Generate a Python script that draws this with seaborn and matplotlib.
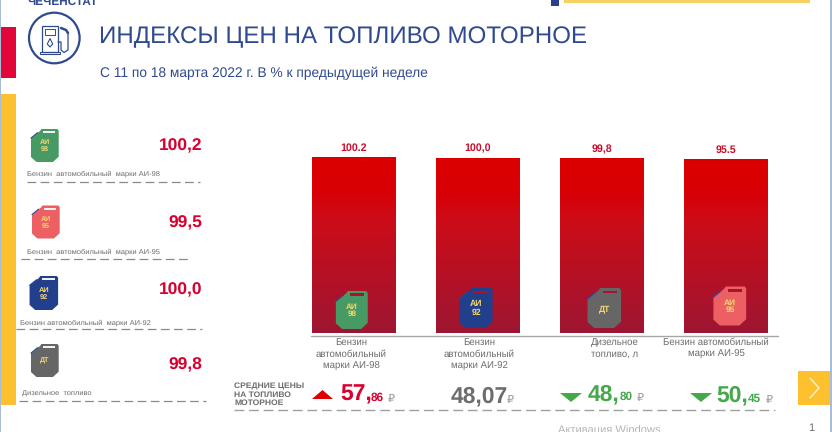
import numpy as np
import pandas as pd
import matplotlib
matplotlib.use("Agg")
import matplotlib.pyplot as plt
import seaborn as sns
from matplotlib.colors import LinearSegmentedColormap
from matplotlib.patches import Circle, Polygon, Rectangle

# the data
fuels = ["АИ-98", "АИ-92", "ДТ", "АИ-95"]
bar_values = [100.2, 100.0, 99.8, 99.5]
bar_labels = ["100.2", "100,0", "99,8", "95.5"]
bar_names = ["Бензин\nавтомобильный\nмарки АИ-98", "Бензин\nавтомобильный\nмарки АИ-92",
             "Дизельное\nтопливо, л", "Бензин автомобильный\nмарки АИ-95"]

side_values = ["100,2", "99,5", "100,0", "99,8"]
side_names = ["Бензин  автомобильный  марки АИ-98", "Бензин  автомобильный  марки АИ-95",
              "Бензин автомобильный  марки АИ-92", "Дизельное  топливо"]

price_whole = ["57,", "48,07", "48,", "50,"]
price_cents = ["86", "", "80", "45"]

NAVY = "#2f4a8f"
RED = "#d9002f"
YELLOW = "#fdc02f"
GREEN = "#45a84a"
GREY = "#6d6d6d"
CAN_COLORS = {"АИ-98": "#479a63", "АИ-92": "#223f8c", "ДТ": "#666666", "АИ-95": "#ec6064"}
W, H = 832, 432

sns.set_theme(style="white")
plt.rcParams["font.family"] = ["Liberation Sans", "DejaVu Sans"]
plt.rcParams["text.hinting"] = "no_hinting"

fig = plt.figure(figsize=(W / 100, H / 100), dpi=100, facecolor="white")

# overlay in pixel coordinates for everything around the chart
bg = fig.add_axes([0, 0, 1, 1], zorder=0)
bg.set_xlim(0, W)
bg.set_ylim(H, 0)
bg.axis("off")

# bar chart
ax = fig.add_axes([311 / W, 1 - 333 / H, (778 - 311) / W, 180 / H], zorder=1)
ax.patch.set_alpha(0)
df = pd.DataFrame({"fuel": fuels, "value": bar_values})
sns.barplot(data=df, x="fuel", y="value", color="#d00010", width=0.67, ax=ax)
ax.axis("off")

red_grad = LinearSegmentedColormap.from_list(
    "bar", [(0, "#dc0000"), (0.2, "#d80006"), (0.35, "#cd0c18"), (1, "#9d1632")])
for patch, lab in zip(ax.patches, bar_labels):
    x0, w = patch.get_x(), patch.get_width()
    top_val = patch.get_height()
    img = ax.imshow(np.linspace(0, 1, 256).reshape(-1, 1), cmap=red_grad, aspect="auto",
                    extent=[x0, x0 + w, 41.5, top_val], zorder=3)
    img.set_clip_path(patch)
    ax.text(x0 + w / 2, top_val + 1.2, lab, ha="center", va="bottom", fontsize=7.7,
            fontweight="bold", color="#c8102e", zorder=4)
ax.set_xlim(-0.343, 3.423)
ax.set_ylim(41.5, 41.5 + 180 / 3)


def draw_can(x, y, s, name, target, slot):
    # x, y is the can centre, s the half height in pixels
    col = CAN_COLORS[name]
    pts = [(-0.85, -0.45), (-0.3, -0.88), (-0.22, -1.0), (0.75, -1.0), (0.83, -0.9), (0.83, 0.68),
           (0.48, 1.0), (-0.52, 1.0), (-0.85, 0.7)]
    target.add_patch(Polygon([(x + px * s, y + py * s) for px, py in pts], closed=True, fc=col,
                             ec="none", zorder=5))
    # small dark corner and the handle slot
    target.plot([x - 0.85 * s, x - 0.45 * s], [y - 0.45 * s, y - 0.78 * s], color="#2b4a9a",
                lw=0.8, zorder=6)
    target.add_patch(Rectangle((x - 0.1 * s, y - 0.87 * s), 0.72 * s, 0.13 * s, fc=slot, ec="none",
                               zorder=6))
    txt = name.replace("-", "\n") if name != "ДТ" else name
    target.text(x, y + 0.02 * s, txt, ha="center", va="center", fontsize=0.31 * s,
                fontweight="bold", color="#f5d76e", linespacing=1.05, zorder=7)


# a second top layer for the cans over the bars
top = fig.add_axes([0, 0, 1, 1], zorder=2)
top.set_xlim(0, W)
top.set_ylim(H, 0)
top.axis("off")

for cx, cy, s, name in zip([352, 476, 604.5, 730], [310, 308, 308, 306], [19, 20, 20, 19.5], fuels):
    draw_can(cx, cy, s, name, top, "#a8142f")

# left stripes and edges
bg.add_patch(Rectangle((1, 27), 15, 51, fc="#e2063a", ec="none"))
bg.add_patch(Rectangle((1, 94), 15, 311, fc=YELLOW, ec="none"))
bg.add_patch(Rectangle((0, 0), 1.2, H, fc="#a9bcd6", ec="none"))
bg.add_patch(Rectangle((829.5, 0), 2.5, H, fc="#a9bcd6", ec="none"))

# header
bg.text(27, 4.5, "ЧЕЧЕНСТАТ", fontsize=8.5, fontweight="bold", color=NAVY, ha="left", va="baseline")
bg.add_patch(Rectangle((551, 0), 8, 6, fc="#2a3f8f", ec="none"))
bg.add_patch(Rectangle((564, 0), 246, 3, fc="#f7cf63", ec="none"))
bg.text(99, 37.5, "ИНДЕКСЫ ЦЕН НА ТОПЛИВО МОТОРНОЕ", fontsize=17.4, color=NAVY, ha="left", va="center")
bg.text(100, 73, "С 11 по 18 марта 2022 г. В % к предыдущей неделе", fontsize=9.95, color=NAVY,
        ha="left", va="center")

# pump icon
bg.add_patch(Circle((54.3, 38), 25.3, fc="none", ec=NAVY, lw=1.6))
bg.add_patch(Rectangle((42, 26), 16, 26, fc="none", ec=NAVY, lw=0.9))
bg.add_patch(Rectangle((45, 29), 10, 6, fc="none", ec=NAVY, lw=0.7))
bg.add_patch(Rectangle((40, 52), 20, 2.2, fc="none", ec=NAVY, lw=0.8))
bg.add_patch(Polygon([(50, 38.5), (47.3, 44), (50, 47), (52.7, 44)], closed=True, fc="none", ec=NAVY, lw=0.8))
bg.plot([58, 61, 61, 64, 68, 68], [42, 42, 50, 52.5, 50, 33], color=NAVY, lw=0.9)
bg.plot([61, 66, 68], [28, 30, 33], color=NAVY, lw=1.8)

# left panel
val_y = [146, 223, 290, 365]
name_x = [27, 27, 20, 22]
name_y = [174, 252, 323, 394]
dash_seg = [(27, 200, 182), (21, 191, 259), (16, 202, 329), (19, 206, 401)]
can_pos = [(45, 145.5, 16.5), (46, 222, 16.5), (44, 293, 17), (45, 360.5, 16.5)]
side_order = ["АИ-98", "АИ-95", "АИ-92", "ДТ"]

for i, name in enumerate(side_order):
    bg.text(202, val_y[i], side_values[i], fontsize=12.5, fontweight="bold", color=RED,
            ha="right", va="center")
    bg.text(name_x[i], name_y[i], side_names[i], fontsize=5.4, color=GREY, ha="left", va="center")
    x0, x1, yy = dash_seg[i]
    bg.plot([x0, x1], [yy, yy], color="#8a8a8a", lw=0.9, dashes=(7, 3.5))
    cx, cy, s = can_pos[i]
    draw_can(cx, cy, s, name, bg, "#f2f2f2")

# axis line and category names
bg.plot([311, 778], [336, 336], color="#a6a6a6", lw=1)
for cx, nm in zip([351, 479, 615, 716], bar_names):
    bg.text(cx, 338, nm, ha="center", va="top", fontsize=6.9, color=GREY, linespacing=1.36)

# average prices row
bg.text(234, 394.5, "СРЕДНИЕ ЦЕНЫ\nНА ТОПЛИВО\nМОТОРНОЕ", fontsize=6.1, fontweight="bold", color=GREY,
        ha="left", va="center", linespacing=1.15)
bg.plot([234, 775], [410, 410], color="#a0a0a0", lw=1, dashes=(7, 3.5))


def draw_price(x, y, whole, cents, cents_x, rub_x, col):
    bg.text(x, y, whole, fontsize=16.5, fontweight="bold", color=col, ha="left", va="center")
    if cents:
        bg.text(cents_x, y + 3, cents, fontsize=8.5, fontweight="bold", color=col, ha="left", va="center")
    bg.text(rub_x, y + 4, "₽", fontsize=8, color="#999999", family="DejaVu Sans", ha="left", va="center")


bg.add_patch(Polygon([(312, 399), (333, 399), (322.5, 390)], closed=True, fc="#dd0000", ec="none"))
draw_price(340, 394.5, price_whole[0], price_cents[0], 371, 388, RED)
draw_price(451, 396, price_whole[1], price_cents[1], 0, 507, GREY)
bg.add_patch(Polygon([(560, 393), (582, 393), (571, 402)], closed=True, fc=GREEN, ec="none"))
draw_price(588, 394, price_whole[2], price_cents[2], 620, 637, GREEN)
bg.add_patch(Polygon([(690, 393), (712, 393), (701, 402)], closed=True, fc=GREEN, ec="none"))
draw_price(716, 395.5, price_whole[3], price_cents[3], 748, 766, GREEN)

# next button, page number and the watermark
bg.add_patch(Rectangle((798, 371), 31.5, 34, fc=YELLOW, ec="none"))
bg.plot([810, 819, 810], [378, 388, 398], color="#fff4d6", lw=1)
bg.text(811, 428.5, "1", fontsize=8, color=GREY, ha="center", va="center")
bg.text(558, 431, "Активация Windows", fontsize=8, color="#b5b5b5", ha="left", va="center")

fig.savefig("out.png", dpi=100)
